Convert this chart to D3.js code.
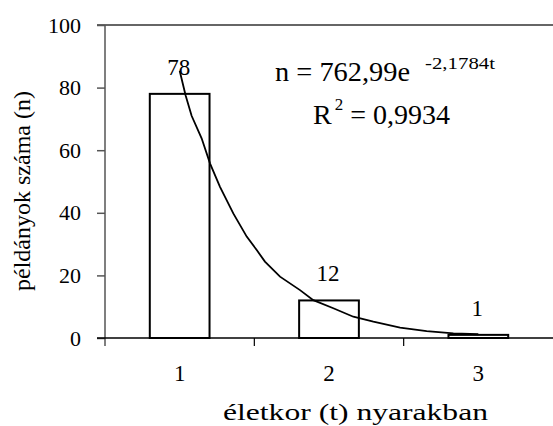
<!DOCTYPE html>
<html><head><meta charset="utf-8">
<script src="https://cdnjs.cloudflare.com/ajax/libs/d3/7.8.5/d3.min.js"></script>
<style>body{margin:0;background:#fff}svg{display:block}svg text{font-family:"Liberation Serif","Times New Roman","DejaVu Serif",serif}</style>
</head><body>
<svg id="c" width="553" height="426" font-family="Liberation Serif, Times New Roman, serif"></svg>
<script>
const categories = ["1", "2", "3"];
const counts = [78, 12, 1];
const yTicks = [0, 20, 40, 60, 80, 100];
// trend line points (t, n)
const trendT = [1.0, 1.04, 1.08, 1.147, 1.203, 1.27, 1.359, 1.449, 1.516, 1.571, 1.672, 1.806, 1.895, 2.029, 2.163, 2.297, 2.476, 2.654, 2.833, 3.0];
const trendN = [85.4, 77.5, 71.0, 63.8, 55.8, 48.3, 39.8, 32.4, 28.1, 24.4, 19.6, 15.3, 12.1, 9.5, 6.8, 5.2, 3.3, 2.2, 1.5, 1.2];
const eqMain = "n = 762,99e";
const eqExp = "-2,1784t";
const r2Label = "R";
const r2Sup = "2";
const r2Value = " = 0,9934";
const yTitle = "példányok száma (n)";
const xTitle = "életkor (t) nyarakban";

(function () {
const FONT = "Liberation Serif, Times New Roman, serif";
const svg = d3.select("#c");
const pLeft = 105, pRight = 553, pTop = 25, pBottom = 338;
const x = d3.scaleBand().domain(categories).range([pLeft, pRight]).paddingInner(0.6).paddingOuter(0.3);
const y = d3.scaleLinear().domain([0, 100]).range([pBottom, pTop]);
const xt = d3.scaleLinear().domain([1, 3]).range([x("1") + x.bandwidth()/2, x("3") + x.bandwidth()/2]);
const step = x.step();

// top line at 100
svg.append("line").attr("x1", 97).attr("x2", pRight).attr("y1", y(100)).attr("y2", y(100))
  .attr("stroke", "#333").attr("stroke-width", 1.5);

// y axis
const yAxis = svg.append("g").attr("transform", `translate(${pLeft},0)`)
  .call(d3.axisLeft(y).tickValues(yTicks).tickSize(8).tickPadding(16).tickFormat(d3.format("d")));
yAxis.attr("font-family", FONT);
yAxis.select(".domain").remove();
yAxis.selectAll(".tick line").attr("stroke", "#555").attr("stroke-width", 1.5);
yAxis.selectAll(".tick text").attr("font-size", 22).attr("fill", "#000").attr("font-family", FONT);
svg.append("line").attr("x1", pLeft).attr("x2", pLeft).attr("y1", pTop).attr("y2", pBottom + 8)
  .attr("stroke", "#555").attr("stroke-width", 1.5);

// x axis
svg.append("line").attr("x1", 97).attr("x2", pRight).attr("y1", pBottom).attr("y2", pBottom)
  .attr("stroke", "#000").attr("stroke-width", 1.5);
categories.forEach((c, i) => {
  if (i > 0) {
    const bx = x(c) - (step - x.bandwidth())/2;
    svg.append("line").attr("x1", bx).attr("x2", bx)
      .attr("y1", pBottom).attr("y2", pBottom + 8).attr("stroke", "#000").attr("stroke-width", 1.2);
  }
  svg.append("text").attr("x", x(c) + x.bandwidth()/2).attr("y", 381)
    .attr("text-anchor", "middle").attr("font-size", 23).attr("font-family", FONT).text(c);
});

// bars
svg.selectAll("rect.bar").data(counts).join("rect").attr("class", "bar")
  .attr("x", (d, i) => x(categories[i])).attr("width", x.bandwidth())
  .attr("y", d => y(d)).attr("height", d => y(0) - y(d))
  .attr("fill", "#fff").attr("stroke", "#000").attr("stroke-width", 2);

// labels
svg.selectAll("text.lbl").data(counts).join("text").attr("class", "lbl")
  .attr("x", (d, i) => x(categories[i]) + x.bandwidth()/2 - 1)
  .attr("y", d => y(d) - 19).attr("text-anchor", "middle").attr("font-size", 23)
  .attr("font-family", FONT).text(d => d);

// trend line
const pts = trendT.map((t, i) => [xt(t), y(trendN[i])]);
svg.append("path").attr("d", d3.line()(pts)).attr("fill", "none").attr("stroke", "#000").attr("stroke-width", 1.8);

// equation
svg.append("text").attr("x", 275).attr("y", 81).attr("font-size", 28).attr("font-family", FONT)
  .attr("textLength", 135).attr("lengthAdjust", "spacingAndGlyphs").text(eqMain);
svg.append("text").attr("x", 425).attr("y", 69).attr("font-size", 17).attr("font-family", FONT)
  .attr("textLength", 70).attr("lengthAdjust", "spacingAndGlyphs").text(eqExp);
const r2 = svg.append("text").attr("x", 313).attr("y", 124).attr("font-size", 28).attr("font-family", FONT);
r2.append("tspan").text(r2Label);
r2.append("tspan").attr("dy", -14).attr("dx", 3).attr("font-size", 17).text(r2Sup);
r2.append("tspan").attr("dy", 14).text(r2Value);

// axis titles
svg.append("text").attr("transform", "translate(30,191) rotate(-90)").attr("text-anchor", "middle")
  .attr("font-size", 24).attr("font-family", FONT).text(yTitle);
svg.append("text").attr("x", 223).attr("y", 420).attr("font-size", 24).attr("font-family", FONT)
  .attr("textLength", 265).attr("lengthAdjust", "spacingAndGlyphs").text(xTitle);
})();
</script>
</body></html>
